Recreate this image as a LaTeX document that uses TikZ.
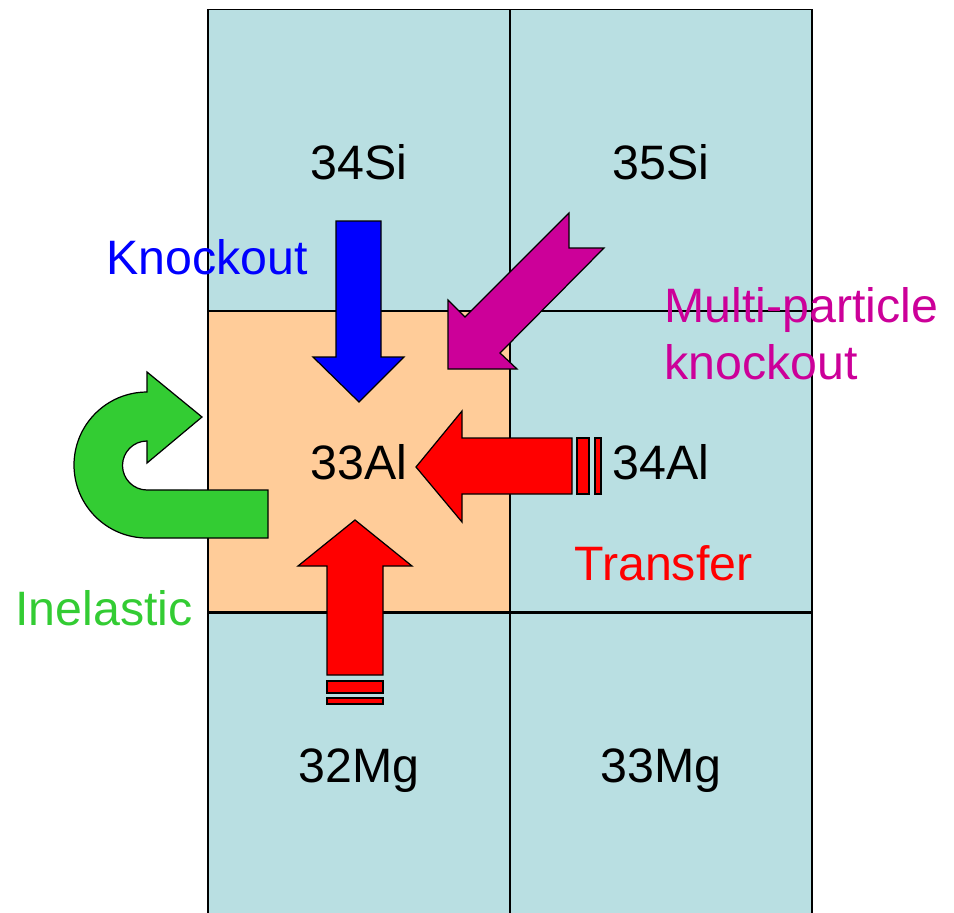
\documentclass[tikz,border=0pt]{standalone}
\usepackage{fontspec}
\setmainfont{Liberation Sans}
\usepackage{tikz}
\definecolor{cellblue}{HTML}{B9DFE2}
\definecolor{cellorange}{HTML}{FFCC99}
\definecolor{koblue}{HTML}{0000FF}
\definecolor{multi}{HTML}{CC0099}
\definecolor{transfer}{HTML}{FF0000}
\definecolor{inel}{HTML}{33CC33}
\tikzset{
  cell/.style={draw=black,line width=1.1pt,minimum width=6.04cm,minimum height=6.02cm,inner sep=0pt},
  nucl/.style={font=\fontsize{27.5}{31}\selectfont,anchor=base,inner sep=0pt},
  lbl/.style={font=\fontsize{27.5}{31}\selectfont,anchor=base west,inner sep=0pt},
  blk/.style={draw=black,line width=0.7pt,line join=miter}
}
\begin{document}
\begin{tikzpicture}[x=0.02cm,y=-0.02cm]
  \useasboundingbox (0,0) rectangle (954,913);
  % chart cells
  \node[cell,fill=cellblue] (si34) at (359,160) {};
  \node[cell,fill=cellblue] (si35) at (661,160) {};
  \node[cell,fill=cellorange] (al33) at (359,461.5) {};
  \node[cell,fill=cellblue] (al34) at (661,461.5) {};
  \node[cell,fill=cellblue] (mg32) at (359,763) {};
  \node[cell,fill=cellblue] (mg33) at (661,763) {};
  % knockout
  \filldraw[blk,fill=koblue] (336,221) -- (381,221) -- (381,357) -- (404,357)
    -- (359,402) -- (313,357) -- (336,357) -- cycle;
  % multi-particle knockout
  \filldraw[blk,fill=multi] (569,213) -- (569,248) -- (604,248) -- (500,353)
    -- (517,369) -- (448,369) -- (448,300) -- (465,317) -- cycle;
  % transfer from 34Al
  \filldraw[blk,fill=transfer] (572,438) -- (572,494) -- (462,494) -- (462,522)
    -- (416,467) -- (462,411) -- (462,438) -- cycle;
  \filldraw[blk,fill=transfer] (577,438) rectangle (589,494);
  \filldraw[blk,fill=transfer] (595,438) rectangle (601,494);
  % transfer from 32Mg
  \filldraw[blk,fill=transfer] (327,675) -- (383,675) -- (383,566) -- (412,566)
    -- (355,520) -- (298,566) -- (327,566) -- cycle;
  \filldraw[blk,fill=transfer] (327,681) rectangle (383,693);
  \filldraw[blk,fill=transfer] (327,698) rectangle (383,704);
  % inelastic
  \filldraw[blk,fill=inel] (268,538) -- (147,538)
    arc[start angle=270,end angle=90,radius=1.46cm] -- (147,372) -- (202,417)
    -- (147,463) -- (147,441) arc[start angle=90,end angle=270,radius=0.49cm]
    -- (268,490) -- cycle;
  % nuclei
  \node[nucl] (si34t) at (359,179) {34Si};
  \node[nucl] (si35t) at (661,179) {35Si};
  \node[nucl] (al33t) at (359,479) {33Al};
  \node[nucl] (al34t) at (661,479) {34Al};
  \node[nucl] (mg32t) at (359,782) {32Mg};
  \node[nucl] (mg33t) at (661,782) {33Mg};
  % reaction labels
  \node[lbl,text=koblue] (knock) at (106,274) {Knockout};
  \node[lbl,text=multi] (multia) at (664,322) {Multi-particle};
  \node[lbl,text=multi] (multib) at (664,379) {knockout};
  \node[lbl,text=transfer] (trans) at (574,580) {Transfer};
  \node[lbl,text=inel] (inelas) at (15,625) {Inelastic};
\end{tikzpicture}
\end{document}
